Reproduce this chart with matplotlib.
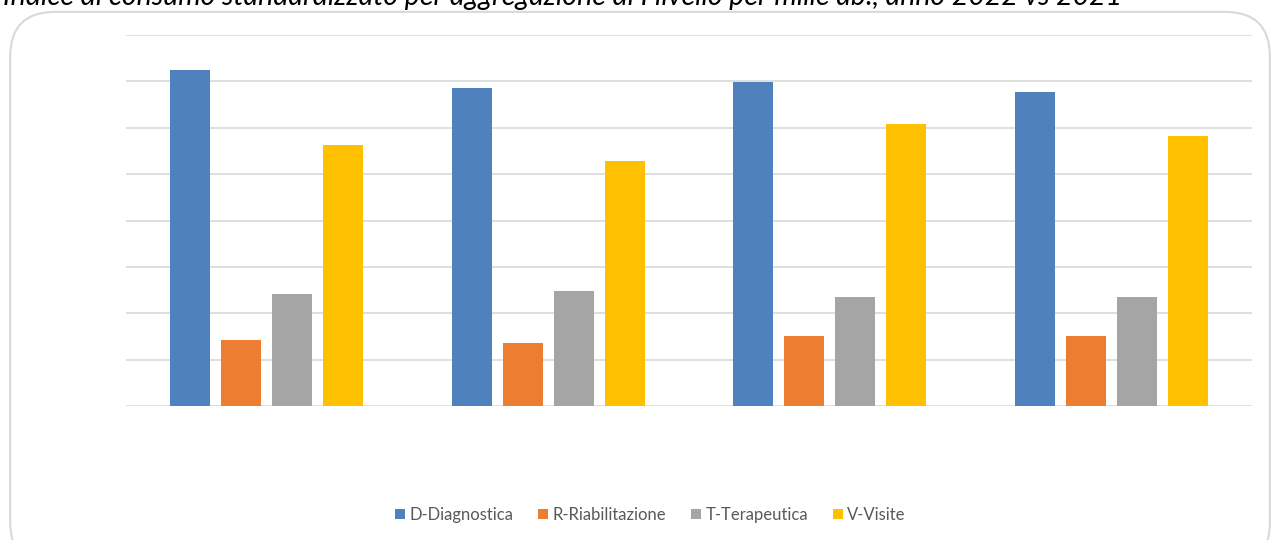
import matplotlib
matplotlib.use("Agg")
import matplotlib.pyplot as plt
from matplotlib.patches import FancyBboxPatch, Patch
import numpy as np

plt.rcParams['font.family'] = ['Lato', 'DejaVu Sans']

groups = ["2021 A", "2022 A", "2021 B", "2022 B"]
series = ["D-Diagnostica", "R-Riabilitazione", "T-Terapeutica", "V-Visite"]
colors = ["#4f81bd", "#ed7d31", "#a5a5a5", "#ffc000"]
diagnostica = [7.24, 6.85, 6.98, 6.77]
riabilitazione = [1.42, 1.36, 1.51, 1.51]
terapeutica = [2.41, 2.48, 2.35, 2.35]
visite = [5.63, 5.28, 6.08, 5.82]
values = [diagnostica, riabilitazione, terapeutica, visite]

title = "Indice di consumo standardizzato per aggregazione di I livello per mille ab., anno 2022 vs 2021"

fig = plt.figure(figsize=(12.75, 5.4), dpi=100)

# rounded chart frame, drawn beneath the axes
frame = FancyBboxPatch((0.008, -0.05), 0.988, 1.028, boxstyle="round,pad=0,rounding_size=0.035",
                       transform=fig.transFigure, facecolor="white", edgecolor="#d9d9d9",
                       linewidth=1.5, mutation_aspect=12.75 / 5.4, zorder=-5)
fig.patches.append(frame)

ax = fig.add_axes([126 / 1275, 1 - 406 / 540, (1252 - 126) / 1275, (406 - 35) / 540])
ax.set_facecolor("none")
ax.set_zorder(2)

x = np.arange(len(groups))
width = 40 / 281.5
step = 51 / 281.5
for i, (vals, col, name) in enumerate(zip(values, colors, series)):
    ax.bar(x + (i - 1.5) * step, vals, width=width, color=col, label=name, zorder=3)

ax.set_xlim(-0.5, len(groups) - 0.5)
ax.set_ylim(0, 8)
ax.set_yticks(np.arange(0, 9, 1))
ax.yaxis.grid(True, color="#d9d9d9", linewidth=1.2, zorder=0)
ax.tick_params(left=False, bottom=False, labelleft=False, labelbottom=False)
for s in ax.spines.values():
    s.set_visible(False)

handles = [Patch(facecolor=c, edgecolor="none") for c in colors]
leg = fig.legend(handles, series, loc="center", bbox_to_anchor=(650.5 / 1275, 1 - 515 / 540),
                 ncol=4, frameon=False, fontsize=12, handlelength=0.6, handleheight=0.6,
                 handletextpad=0.25, columnspacing=1.5)
for t in leg.get_texts():
    t.set_color("#595959")

fig.text(0.002, 1 - 5 / 540, title, fontsize=20.5, style="italic", color="black",
         ha="left", va="baseline")

fig.savefig("out.png", dpi=100)
